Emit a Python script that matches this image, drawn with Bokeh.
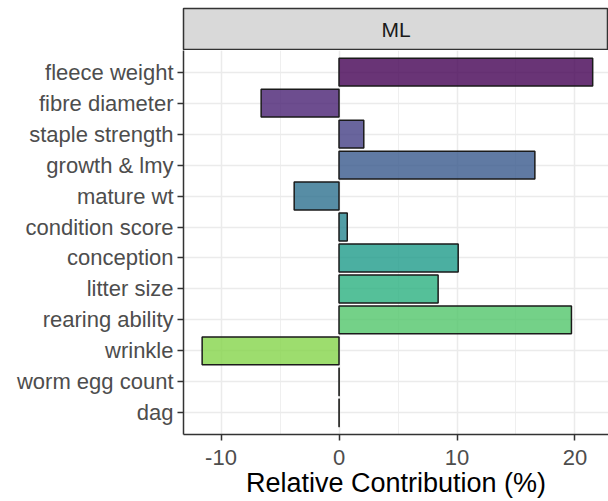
from bokeh.plotting import figure
from bokeh.models import FactorRange, Range1d, FixedTicker, ColumnDataSource
from bokeh.layouts import column
from bokeh.embed import file_html
from bokeh.resources import INLINE
from bokeh.core.properties import value

# ---- data ----
traits = ["fleece weight", "fibre diameter", "staple strength", "growth & lmy",
          "mature wt", "condition score", "conception", "litter size",
          "rearing ability", "wrinkle", "worm egg count", "dag"]
contribution = [21.5, -6.6, 2.1, 16.6, -3.8, 0.7, 10.1, 8.4, 19.7, -11.6, 0.01, 0.01]
x_ticks = [-10, 0, 10, 20]
x_minor = [-5, 5, 15]
facet = "ML"
palette = ["#440154", "#482173", "#433E85", "#38598C", "#2D708E", "#25858E",
           "#1E9B8A", "#2BB07F", "#51C56A", "#85D54A", "#C2DF23", "#FDE725"]

FONT = "Liberation Sans"
LEFT = 183
FW = 425

src = ColumnDataSource(dict(trait=traits, contrib=contribution, color=palette))

# ---- facet strip ----
strip = figure(frame_width=FW, frame_height=42, min_border_left=LEFT,
               min_border_right=0, min_border_top=8, min_border_bottom=0,
               x_range=Range1d(0, 1), y_range=Range1d(0, 1),
               x_axis_location=None, y_axis_location=None,
               toolbar_location=None, output_backend="svg",
               background_fill_color="#d9d9d9", border_fill_color="white",
               outline_line_color="#333333", outline_line_width=1.5)
strip.grid.visible = False
strip.text(x=[0.5], y=[0.5], text=[facet], text_align="center",
           text_baseline="middle", text_font=value(FONT),
           text_font_size="21px", text_color="#1a1a1a")

# ---- main panel ----
p = figure(y_range=FactorRange(factors=traits[::-1], range_padding=0.2,
                               range_padding_units="absolute"),
           x_range=Range1d(-13.18, 22.84),
           frame_width=FW, frame_height=384, min_border_left=LEFT,
           min_border_right=0, min_border_top=0, min_border_bottom=0,
           toolbar_location=None, output_backend="svg",
           outline_line_color=None, background_fill_color="white")

p.hbar(y="trait", left=0, right="contrib", height=0.9, source=src,
       fill_color="color", fill_alpha=0.8, line_color="#1a1a1a", line_width=1.5)

ticker = FixedTicker(ticks=x_ticks, minor_ticks=x_minor)
p.xaxis.ticker = ticker
p.xgrid.ticker = ticker
p.xaxis.major_label_overrides = {t: str(t) for t in x_ticks}
p.xgrid.grid_line_color = "#ebebeb"
p.xgrid.grid_line_width = 1.5
p.xgrid.minor_grid_line_color = "#ebebeb"
p.xgrid.minor_grid_line_width = 0.8
p.ygrid.grid_line_color = "#ebebeb"
p.ygrid.grid_line_width = 1.5

for ax in (p.xaxis[0], p.yaxis[0]):
    ax.axis_line_color = "#333333"
    ax.axis_line_width = 1.5
    ax.major_tick_line_color = "#333333"
    ax.major_tick_line_width = 1.5
    ax.major_tick_out = 6
    ax.major_tick_in = 0
    ax.minor_tick_line_color = None
    ax.major_label_text_font = FONT
    ax.major_label_text_font_size = "22px"
    ax.major_label_text_color = "#4d4d4d"
    ax.major_label_standoff = 4

p.xaxis.major_label_standoff = 9
p.xaxis.axis_label = "Relative Contribution (%)"
p.xaxis.axis_label_text_font = FONT
p.xaxis.axis_label_text_font_size = "27px"
p.xaxis.axis_label_text_font_style = "normal"
p.xaxis.axis_label_text_color = "black"
p.xaxis.axis_label_standoff = 0

layout = column(strip, p, spacing=0)
open("out.html", "w").write(file_html(layout, INLINE))
